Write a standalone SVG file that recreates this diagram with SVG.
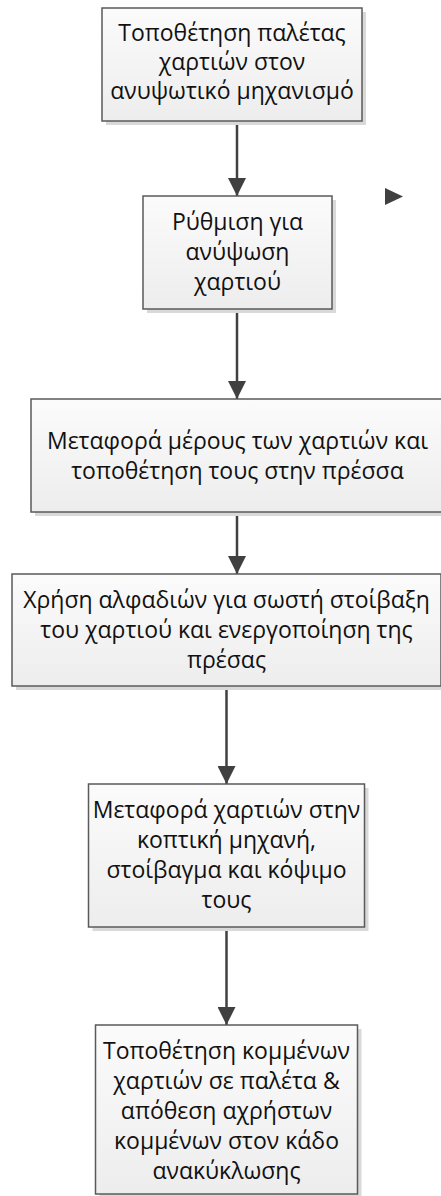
<svg xmlns="http://www.w3.org/2000/svg" width="441" height="1196" viewBox="0 0 441 1196">
  <defs>
    <linearGradient id="boxFill" x1="0" y1="0" x2="0" y2="1">
      <stop offset="0" stop-color="#fbfbfb"/>
      <stop offset="1" stop-color="#ededed"/>
    </linearGradient>
    <marker id="arrowHead" viewBox="0 0 10 10" refX="10" refY="5" markerWidth="7.2" markerHeight="7.2" markerUnits="strokeWidth" orient="auto">
      <path d="M0,0 L10,5 L0,10 z" fill="#404040"/>
    </marker>
  </defs>
  <style>
    .shadow { fill: #d9d9d9; }
    .box { fill: url(#boxFill); stroke: #5a5a5a; stroke-width: 1.5; }
    .label { font-family: "Open Sans", "Noto Sans", "DejaVu Sans", sans-serif; font-size: 23px; fill: #111111; text-anchor: middle; }
    .conn { stroke: #404040; stroke-width: 2.5; fill: none; marker-end: url(#arrowHead); }
  </style>
  <rect width="441" height="1196" fill="#ffffff"/>

  <!-- connectors -->
  <g id="connectors">
    <line class="conn" x1="237" y1="121" x2="237" y2="196"/>
    <line class="conn" x1="237" y1="309" x2="237" y2="399"/>
    <line class="conn" x1="237" y1="512" x2="237" y2="574"/>
    <line class="conn" x1="226.5" y1="686" x2="226.5" y2="784"/>
    <line class="conn" x1="226.5" y1="927" x2="226.5" y2="1025"/>
    <!-- loose arrowhead to the right of step 2 -->
    <polygon points="385,188 403,196.5 385,205" fill="#404040"/>
  </g>

  <g id="step1">
    <rect class="shadow" x="106" y="12" width="260" height="113"/>
    <rect class="box" x="102" y="8" width="260" height="113"/>
    <text class="label" x="232" y="41">Τοποθέτηση παλέτας</text>
    <text class="label" x="232" y="70">χαρτιών στον</text>
    <text class="label" x="232" y="99">ανυψωτικό μηχανισμό</text>
  </g>

  <g id="step2">
    <rect class="shadow" x="147" y="200" width="189" height="113"/>
    <rect class="box" x="143" y="196" width="189" height="113"/>
    <text class="label" x="237.5" y="230">Ρύθμιση για</text>
    <text class="label" x="237.5" y="260">ανύψωση</text>
    <text class="label" x="237.5" y="290">χαρτιού</text>
  </g>

  <g id="step3">
    <rect class="shadow" x="35" y="403" width="413" height="113"/>
    <rect class="box" x="31" y="399" width="413" height="113"/>
    <text class="label" x="237.5" y="449">Μεταφορά μέρους των χαρτιών και</text>
    <text class="label" x="237.5" y="479">τοποθέτηση τους στην πρέσσα</text>
  </g>

  <g id="step4">
    <rect class="shadow" x="16" y="578" width="429" height="112"/>
    <rect class="box" x="12" y="574" width="429" height="112"/>
    <text class="label" x="226.5" y="608">Χρήση αλφαδιών για σωστή στοίβαξη</text>
    <text class="label" x="226.5" y="638">του χαρτιού και ενεργοποίηση της</text>
    <text class="label" x="226.5" y="668">πρέσας</text>
  </g>

  <g id="step5">
    <rect class="shadow" x="92.5" y="788" width="276" height="143"/>
    <rect class="box" x="88.5" y="784" width="276" height="143"/>
    <text class="label" x="226.5" y="818">Μεταφορά χαρτιών στην</text>
    <text class="label" x="226.5" y="848">κοπτική μηχανή,</text>
    <text class="label" x="226.5" y="878">στοίβαγμα και κόψιμο</text>
    <text class="label" x="226.5" y="908">τους</text>
  </g>

  <g id="step6">
    <rect class="shadow" x="99.5" y="1029" width="262" height="175"/>
    <rect class="box" x="95.5" y="1025" width="262" height="169"/>
    <text class="label" x="226.5" y="1059">Τοποθέτηση κομμένων</text>
    <text class="label" x="226.5" y="1089">χαρτιών σε παλέτα &amp;</text>
    <text class="label" x="226.5" y="1119">απόθεση αχρήστων</text>
    <text class="label" x="226.5" y="1149">κομμένων στον κάδο</text>
    <text class="label" x="226.5" y="1179">ανακύκλωσης</text>
  </g>
</svg>
